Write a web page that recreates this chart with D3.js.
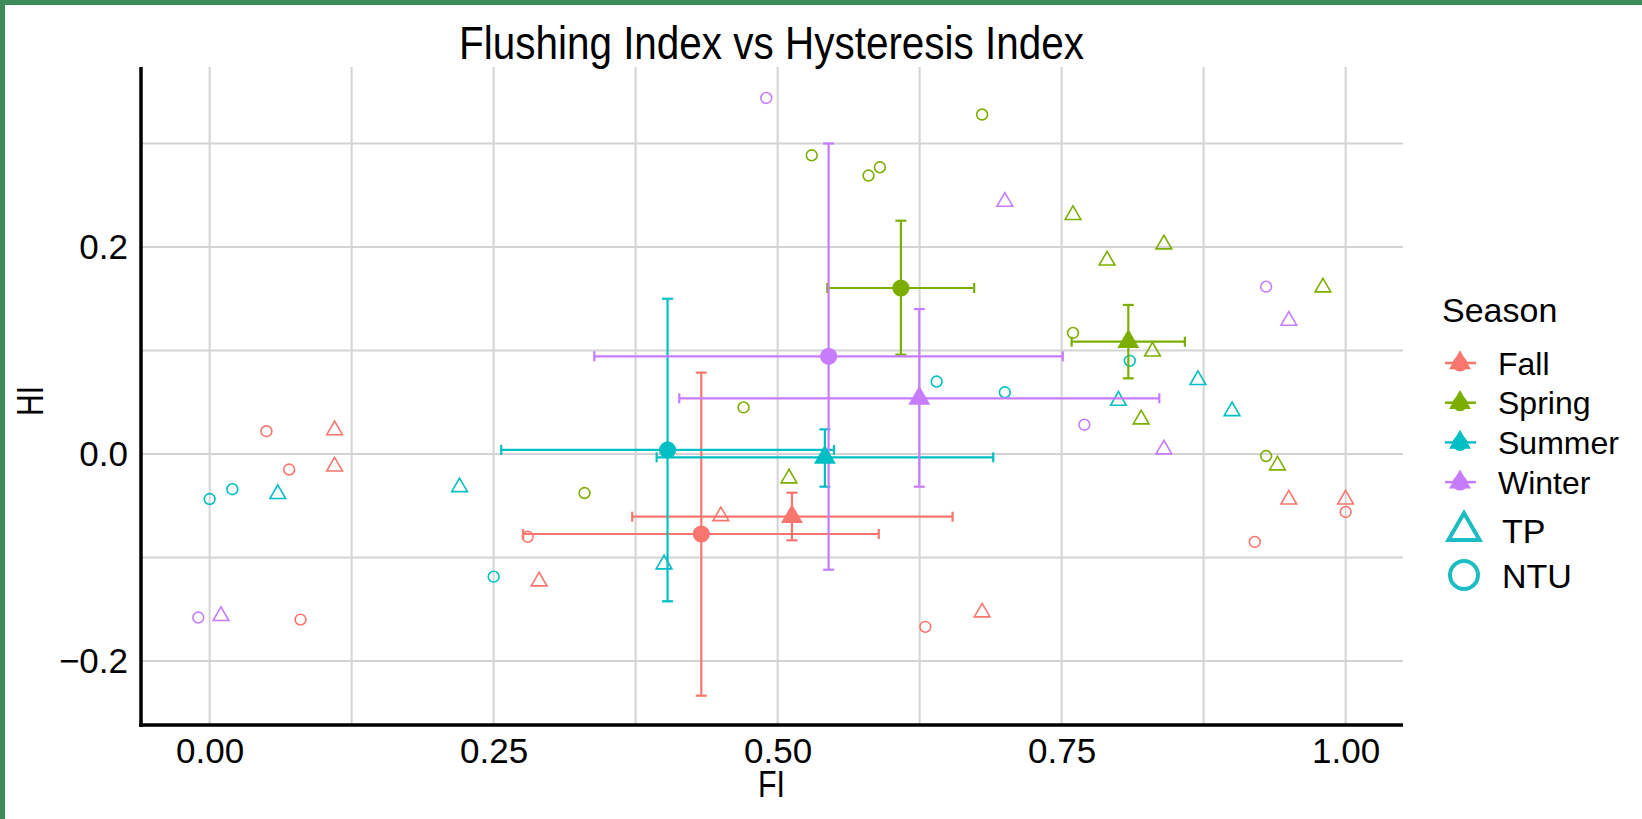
<!DOCTYPE html>
<html>
<head>
<meta charset="utf-8">
<script src="https://cdn.jsdelivr.net/npm/d3@7/dist/d3.min.js"></script>
<style>
body { margin: 0; background: #fff; }
text { font-family: "Liberation Sans", Arial, sans-serif; fill: #000; }
</style>
</head>
<body>
<svg width="1642" height="819"></svg>
<script>
var seasons = ["Fall", "Spring", "Summer", "Winter"],
    seasonColors = ["#F8766D", "#7CAE00", "#00BFC4", "#C77CFF"];

// raw points, [FI, HI]
var fallTP = [[0.11, 0.023], [0.11, -0.012], [0.29, -0.123], [0.45, -0.06], [0.68, -0.153], [0.95, -0.044], [1.0, -0.044]],
    fallNTU = [[0.05, 0.022], [0.07, -0.015], [0.08, -0.16], [0.28, -0.08], [0.63, -0.167], [0.92, -0.085], [1.0, -0.056]],
    springTP = [[0.51, -0.0235], [0.76, 0.231], [0.79, 0.187], [0.84, 0.2026], [0.83, 0.099], [0.82, 0.0335], [0.94, -0.011], [0.98, 0.161]],
    springNTU = [[0.33, -0.0377], [0.47, 0.045], [0.53, 0.2886], [0.58, 0.269], [0.59, 0.277], [0.68, 0.328], [0.76, 0.117], [0.93, -0.002]],
    summerTP = [[0.06, -0.0386], [0.22, -0.032], [0.40, -0.1066], [0.80, 0.0515], [0.87, 0.0715], [0.90, 0.0415]],
    summerNTU = [[0.0, -0.0435], [0.02, -0.034], [0.25, -0.1185], [0.64, 0.07], [0.70, 0.0596], [0.81, 0.09]],
    winterTP = [[0.01, -0.1565], [0.70, 0.2438], [0.84, 0.0045], [0.95, 0.1288]],
    winterNTU = [[-0.01, -0.158], [0.49, 0.344], [0.77, 0.0283], [0.93, 0.1617]];

// season means with error bars
var sumSeason = ["Fall", "Fall", "Spring", "Spring", "Summer", "Summer", "Winter", "Winter"],
    sumType = ["TP", "NTU", "TP", "NTU", "TP", "NTU", "TP", "NTU"],
    meanFI = [0.5126, 0.4328, 0.8087, 0.6085, 0.5416, 0.4031, 0.6247, 0.5449],
    meanHI = [-0.0606, -0.0773, 0.1085, 0.1604, -0.0032, 0.0039, 0.0538, 0.0944],
    fiLow = [0.372, 0.276, 0.7588, 0.5437, 0.3935, 0.2567, 0.4134, 0.3386],
    fiHigh = [0.654, 0.589, 0.8585, 0.673, 0.6898, 0.5496, 0.836, 0.751],
    hiLow = [-0.0834, -0.2335, 0.0731, 0.096, -0.0316, -0.1423, -0.0316, -0.1118],
    hiHigh = [-0.0374, 0.0786, 0.144, 0.2254, 0.0238, 0.150, 0.140, 0.300];

var xTicks = [0, 0.25, 0.5, 0.75, 1],
    xTickLabels = ["0.00", "0.25", "0.50", "0.75", "1.00"],
    xGrid = [0, 0.125, 0.25, 0.375, 0.5, 0.625, 0.75, 0.875, 1],
    yTicks = [-0.2, 0, 0.2],
    yTickLabels = ["\u22120.2", "0.0", "0.2"],
    yGrid = [-0.2, -0.1, 0, 0.1, 0.2, 0.3];

var svg = d3.select("svg"),
    pLeft = 140, pRight = 1403, pTop = 67, pBottom = 726;

var x = d3.scaleLinear().domain([-0.0613, 1.0505]).range([pLeft, pRight]),
    y = d3.scaleLinear().domain([-0.2628, 0.3739]).range([pBottom, pTop]),
    color = d3.scaleOrdinal(seasons, seasonColors);

var raw = [];
[["Fall", fallTP, fallNTU], ["Spring", springTP, springNTU], ["Summer", summerTP, summerNTU], ["Winter", winterTP, winterNTU]]
  .forEach(function(s) {
    s[1].forEach(function(p) { raw.push({season: s[0], type: "TP", fi: p[0], hi: p[1]}); });
    s[2].forEach(function(p) { raw.push({season: s[0], type: "NTU", fi: p[0], hi: p[1]}); });
  });

var summary = sumSeason.map(function(s, i) {
  return {season: s, type: sumType[i], fi: meanFI[i], hi: meanHI[i],
          fiLo: fiLow[i], fiHi: fiHigh[i], hiLo: hiLow[i], hiHi: hiHigh[i]};
});

function tri(h) {
  var w = h / Math.sqrt(3);
  return "M0," + (-2 * h / 3) + "L" + w + "," + (h / 3) + "L" + (-w) + "," + (h / 3) + "Z";
}

// green frame
svg.append("rect").attr("x", 0).attr("y", 0).attr("width", 1642).attr("height", 5).attr("fill", "#3d8b56");
svg.append("rect").attr("x", 0).attr("y", 0).attr("width", 5).attr("height", 819).attr("fill", "#3d8b56");

// grid
var grid = svg.append("g").attr("stroke", "#d3d3d3").attr("stroke-width", 2);
grid.selectAll(".gx").data(xGrid).enter().append("line")
    .attr("x1", x).attr("x2", x).attr("y1", pTop).attr("y2", pBottom);
grid.selectAll(".gy").data(yGrid).enter().append("line")
    .attr("y1", y).attr("y2", y).attr("x1", pLeft).attr("x2", pRight);

// axes
svg.append("g").attr("transform", "translate(0," + pBottom + ")")
    .call(d3.axisBottom(x).tickValues(xTicks).tickFormat(function(d, i) { return xTickLabels[i]; })
      .tickSize(0).tickPadding(12));
svg.append("g").attr("transform", "translate(" + pLeft + ",0)")
    .call(d3.axisLeft(y).tickValues(yTicks).tickFormat(function(d, i) { return yTickLabels[i]; })
      .tickSize(0).tickPadding(12));
svg.selectAll(".domain").remove();
svg.selectAll(".tick text").attr("font-size", 35).attr("font-family", "Liberation Sans, Arial, sans-serif").attr("fill", "#000");

svg.append("line").attr("x1", pLeft + 1).attr("x2", pLeft + 1).attr("y1", pTop).attr("y2", pBottom + 1)
    .attr("stroke", "#000").attr("stroke-width", 3.5);
svg.append("line").attr("x1", pLeft - 1).attr("x2", pRight).attr("y1", pBottom - 1).attr("y2", pBottom - 1)
    .attr("stroke", "#000").attr("stroke-width", 3.5);

// raw points
var pts = svg.append("g").attr("fill", "none").attr("stroke-width", 1.6);
pts.selectAll(".raw").data(raw).enter().append("path")
    .attr("d", function(d) { return d.type === "TP" ? tri(13.6) : d3.symbol(d3.symbolCircle, Math.PI * 5.4 * 5.4)(); })
    .attr("transform", function(d) { return "translate(" + x(d.fi) + "," + y(d.hi) + ")"; })
    .attr("stroke", function(d) { return color(d.season); });

// error bars
var eb = svg.append("g").attr("stroke-width", 2.2).attr("fill", "none");
var bars = eb.selectAll(".eb").data(summary).enter().append("g")
    .attr("stroke", function(d) { return color(d.season); });
bars.append("line")
    .attr("x1", function(d) { return x(d.fi); }).attr("x2", function(d) { return x(d.fi); })
    .attr("y1", function(d) { return y(d.hiLo); }).attr("y2", function(d) { return y(d.hiHi); });
bars.append("line")
    .attr("x1", function(d) { return x(d.fi) - 5.5; }).attr("x2", function(d) { return x(d.fi) + 5.5; })
    .attr("y1", function(d) { return y(d.hiLo); }).attr("y2", function(d) { return y(d.hiLo); });
bars.append("line")
    .attr("x1", function(d) { return x(d.fi) - 5.5; }).attr("x2", function(d) { return x(d.fi) + 5.5; })
    .attr("y1", function(d) { return y(d.hiHi); }).attr("y2", function(d) { return y(d.hiHi); });
bars.append("line")
    .attr("x1", function(d) { return x(d.fiLo); }).attr("x2", function(d) { return x(d.fiHi); })
    .attr("y1", function(d) { return y(d.hi); }).attr("y2", function(d) { return y(d.hi); });
bars.append("line")
    .attr("x1", function(d) { return x(d.fiLo); }).attr("x2", function(d) { return x(d.fiLo); })
    .attr("y1", function(d) { return y(d.hi) - 5; }).attr("y2", function(d) { return y(d.hi) + 5; });
bars.append("line")
    .attr("x1", function(d) { return x(d.fiHi); }).attr("x2", function(d) { return x(d.fiHi); })
    .attr("y1", function(d) { return y(d.hi) - 5; }).attr("y2", function(d) { return y(d.hi) + 5; });

// means
svg.append("g").selectAll(".mean").data(summary).enter().append("path")
    .attr("d", function(d) { return d.type === "TP" ? tri(19) : d3.symbol(d3.symbolCircle, Math.PI * 8.6 * 8.6)(); })
    .attr("transform", function(d) { return "translate(" + x(d.fi) + "," + y(d.hi) + ")"; })
    .attr("fill", function(d) { return color(d.season); });

// titles
svg.append("text").attr("x", (pLeft + pRight) / 2).attr("y", 59).attr("text-anchor", "middle")
    .attr("font-size", 46).attr("textLength", 625).attr("lengthAdjust", "spacingAndGlyphs")
    .text("Flushing Index vs Hysteresis Index");
svg.append("text").attr("x", (pLeft + pRight) / 2).attr("y", 797).attr("text-anchor", "middle")
    .attr("font-size", 36).attr("textLength", 27).attr("lengthAdjust", "spacingAndGlyphs").text("FI");
svg.append("text").attr("transform", "translate(43,401) rotate(-90)").attr("text-anchor", "middle")
    .attr("font-size", 36).attr("textLength", 30).attr("lengthAdjust", "spacingAndGlyphs").text("HI");

// legend
var legend = svg.append("g");
legend.append("text").attr("x", 1442).attr("y", 322).attr("font-size", 34).text("Season");
var key = legend.selectAll(".key").data(seasons).enter().append("g")
    .attr("transform", function(d, i) { return "translate(1460," + (363 + i * 39.7) + ")"; });
key.append("line").attr("x1", -15).attr("x2", 16).attr("stroke", function(d) { return color(d); }).attr("stroke-width", 2.5);
key.append("circle").attr("r", 7.5).attr("cy", 1).attr("fill", function(d) { return color(d); });
key.append("path").attr("d", tri(19)).attr("fill", function(d) { return color(d); });
key.append("text").attr("x", 38).attr("y", 11.5).attr("font-size", 32).text(function(d) { return d; });

var shapeKey = legend.append("g").attr("stroke", "#1cbdc2").attr("stroke-width", 4).attr("fill", "none");
shapeKey.append("path").attr("d", tri(27)).attr("transform", "translate(1464,531)");
shapeKey.append("circle").attr("cx", 1464).attr("cy", 575).attr("r", 14);
legend.append("text").attr("x", 1502).attr("y", 543).attr("font-size", 34).text("TP");
legend.append("text").attr("x", 1502).attr("y", 588).attr("font-size", 34).text("NTU");
</script>
</body>
</html>
